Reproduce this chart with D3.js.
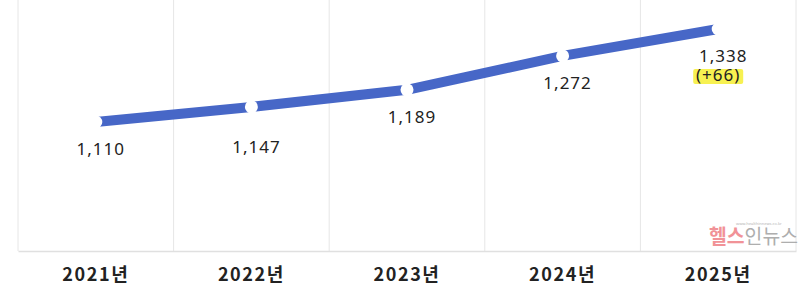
<!DOCTYPE html>
<html><head><meta charset="utf-8">
<script src="https://cdn.jsdelivr.net/npm/d3@7"></script>
<style>html,body{margin:0;padding:0;background:#fff;}svg{display:block;}</style>
</head><body>
<svg id="chart" width="800" height="292"></svg>
<script>
const years = ["2021년", "2022년", "2023년", "2024년", "2025년"];
const values = [1110, 1147, 1189, 1272, 1338];
const valueLabels = ["1,110", "1,147", "1,189", "1,272", "1,338"];
const changeLabel = "(+66)";
const yDomain = [800, 1400];

const svg = d3.select("#chart");
const left = 18, right = 796, bottom = 251;

const x = d3.scaleBand().domain(years).range([left, right]).paddingInner(0).paddingOuter(0);
const y = d3.scaleLinear().domain(yDomain).range([248.5, 3.7]);
const cx = d => x(d) + x.bandwidth() / 2;

// vertical gridlines
const gridX = years.map(d => x(d)).concat([right]);
svg.append("g").selectAll("line").data(gridX).join("line")
  .attr("x1", d => d).attr("x2", d => d).attr("y1", 0).attr("y2", bottom)
  .attr("stroke", "#e6e6e6").attr("stroke-width", 1);

// bottom axis
const axis = d3.axisBottom(x).tickSize(0).tickPadding(0);
const gAxis = svg.append("g").attr("transform", `translate(0,${bottom})`).call(axis);
gAxis.select(".domain").attr("stroke", "#e0e0e0").attr("stroke-width", 1.5);
gAxis.selectAll("text")
  .attr("y", 30).attr("dy", 0)
  .attr("font-family", "'Noto Sans CJK KR','Noto Sans',sans-serif")
  .attr("font-size", 18).attr("font-weight", "bold").attr("fill", "#222")
  .attr("letter-spacing", 1.6);

// line
const pts = years.map((d, i) => ({ year: d, v: values[i], label: valueLabels[i] }));
const line = d3.line().x(d => cx(d.year)).y(d => y(d.v));
svg.append("path").datum(pts).attr("d", line)
  .attr("fill", "none").attr("stroke", "#4767c7").attr("stroke-width", 10)
  .attr("stroke-linejoin", "round");

svg.append("g").selectAll("circle").data(pts).join("circle")
  .attr("cx", d => cx(d.year)).attr("cy", d => y(d.v)).attr("r", 6.5)
  .attr("fill", "#fff");

// value labels
const numFont = "'Noto Sans','Noto Sans CJK KR',sans-serif";
const labelShift = [0, 13, 0, 0, 0];
svg.append("g").selectAll("text").data(pts).join("text")
  .attr("x", d => cx(d.year) + 5)
  .attr("y", (d, i) => y(d.v) + 33 + labelShift[i])
  .attr("text-anchor", "middle")
  .attr("font-family", numFont)
  .attr("font-size", 17).attr("fill", "#222").attr("letter-spacing", 1)
  .text(d => d.label);

// change label with highlight
const last = pts[pts.length - 1];
const chX = cx(last.year) + 0, chY = y(last.v) + 52;
svg.append("rect").attr("x", chX - 25).attr("y", chY - 12).attr("width", 50).attr("height", 15)
  .attr("rx", 2).attr("fill", "#f6ef3e").attr("opacity", 0.9);
svg.append("text").attr("x", chX).attr("y", chY)
  .attr("text-anchor", "middle")
  .attr("font-family", numFont)
  .attr("font-size", 17).attr("fill", "#222").attr("letter-spacing", 1)
  .text(changeLabel);

// watermark
const wm = svg.append("g").attr("opacity", 0.85);
wm.append("text").attr("x", 736).attr("y", 225)
  .attr("font-family", "'Noto Sans',sans-serif").attr("font-size", 4).attr("fill", "#aaa")
  .text("www.healthinnews.co.kr");
const wt = wm.append("text").attr("x", 709).attr("y", 244)
  .attr("font-family", "'Noto Sans CJK KR',sans-serif").attr("font-size", 20).attr("font-weight", "bold")
  .attr("textLength", 89).attr("lengthAdjust", "spacingAndGlyphs");
wt.append("tspan").attr("fill", "#ef7f86").text("헬스");
wt.append("tspan").attr("fill", "#a0a0a0").attr("font-weight", "normal").text("인뉴스");
</script>
</body></html>
